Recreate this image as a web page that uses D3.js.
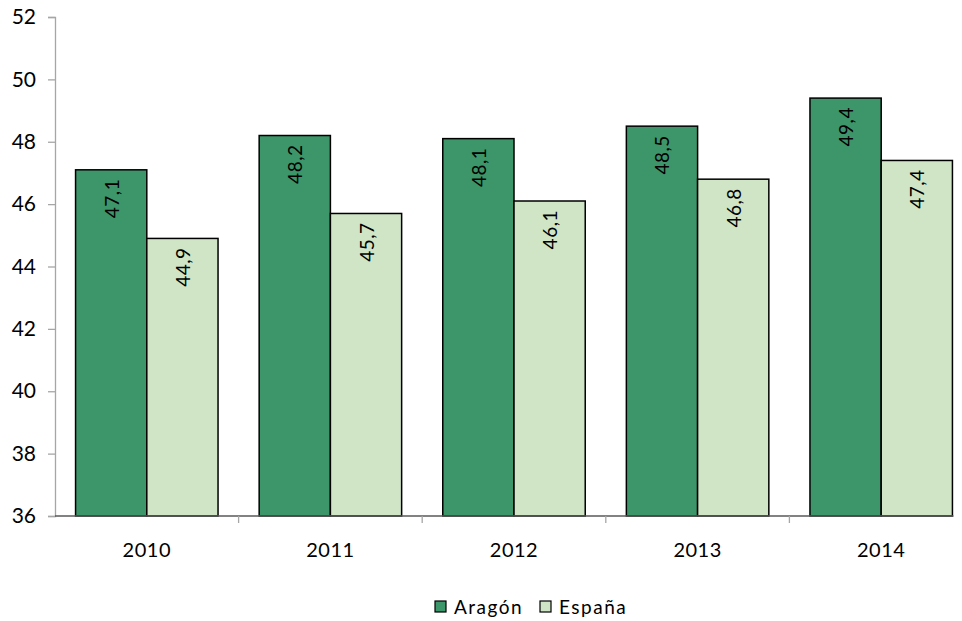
<!DOCTYPE html>
<html><head><meta charset="utf-8">
<script src="https://cdn.jsdelivr.net/npm/d3@7"></script>
<style>body{margin:0;background:#fff}svg{display:block}text{font-family:Lato,"Open Sans",sans-serif;fill:#000}</style>
</head><body>
<svg id="c" width="962" height="621"></svg>
<script>
const years = ["2010","2011","2012","2013","2014"];
const seriesNames = ["Aragón","España"];
const aragon = [47.1, 48.2, 48.1, 48.5, 49.4];
const espana = [44.9, 45.7, 46.1, 46.8, 47.4];
const yTicks = [36,38,40,42,44,46,48,50,52];
const colors = ["#3d9669","#cfe5c6"];

(function(){
const svg = d3.select("#c");
const mLeft = 55, mTop = 17, mBottom = 516, mRight = 973;
const x = d3.scaleBand().domain(years).range([mLeft, mRight]).paddingInner(0).paddingOuter(0);
const innerPad = 0.112;
const x1 = d3.scaleBand().domain(seriesNames)
  .range([x.bandwidth()*innerPad, x.bandwidth()*(1-innerPad)]).padding(0);
const y = d3.scaleLinear().domain([36,52]).range([mBottom, mTop]);

// y axis
const yAxis = svg.append("g").attr("transform",`translate(${mLeft},0)`)
  .call(d3.axisLeft(y).tickValues(yTicks).tickSize(7).tickPadding(12).tickFormat(d3.format("d")));
yAxis.select(".domain").attr("stroke","#a6a6a6").attr("stroke-width",1.3);
yAxis.selectAll(".tick line").attr("stroke","#a6a6a6").attr("stroke-width",1.3);
yAxis.selectAll("text").style("font-size","21px").attr("fill","#000");

// bars
const data = years.map((yr,i)=>({yr, vals:[aragon[i], espana[i]]}));
const g = svg.append("g");
data.forEach(d=>{
  d.vals.forEach((v,j)=>{
    const bx = x(d.yr) + x1(seriesNames[j]);
    const bw = x1.bandwidth();
    g.append("rect").attr("x",bx).attr("y",y(v)).attr("width",bw).attr("height",y(36)-y(v))
      .attr("fill",colors[j]).attr("stroke","#000").attr("stroke-width",1.5);
    g.append("text").attr("transform",`translate(${bx+bw/2},${y(v)+9}) rotate(-90)`)
      .attr("text-anchor","end").attr("dominant-baseline","central")
      .style("font-size","19px").style("letter-spacing","0.5px")
      .text(d3.format(".1f")(v).replace(".",","));
  });
});

// x axis
const lastEnd = x(years[years.length-1]) + x.bandwidth()*(1-innerPad) + 1;
const xAxis = svg.append("g").attr("transform",`translate(0,${mBottom})`);
xAxis.append("line").attr("x1",mLeft).attr("x2",lastEnd).attr("stroke","#595959").attr("stroke-width",1.5);
xAxis.selectAll("line.t").data(years.slice(1)).enter().append("line").attr("class","t")
  .attr("x1",d=>x(d)).attr("x2",d=>x(d)).attr("y1",0).attr("y2",7).attr("stroke","#a6a6a6").attr("stroke-width",1.3);
xAxis.selectAll("text").data(years).enter().append("text")
  .attr("x",d=>x(d)+x.bandwidth()/2).attr("y",41).attr("text-anchor","middle")
  .style("font-size","20px").style("letter-spacing","0.5px").text(d=>d);

// legend
const leg = svg.append("g");
const legX = [435, 540];
seriesNames.forEach((n,j)=>{
  leg.append("rect").attr("x",legX[j]).attr("y",601).attr("width",11).attr("height",11)
    .attr("fill",colors[j]).attr("stroke","#000").attr("stroke-width",1.2);
  leg.append("text").attr("x",legX[j]+19).attr("y",614).style("font-size","19px")
    .style("letter-spacing","1.5px").text(n);
});
})();
</script>
</body></html>
